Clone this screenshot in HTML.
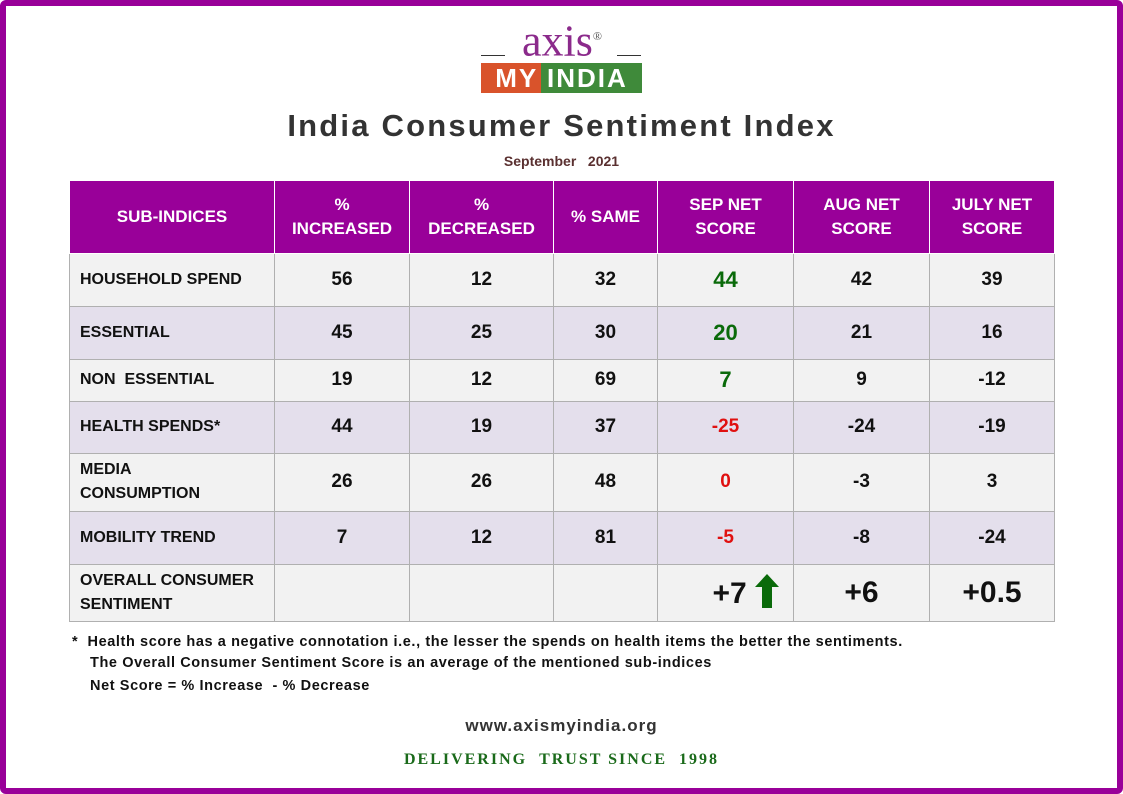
<!DOCTYPE html>
<html><head><meta charset="utf-8"><style>
body{margin:0;width:1123px;height:794px;background:#fff;font-family:"Liberation Sans",sans-serif;position:relative;overflow:hidden}
.frame{position:absolute;left:0;top:0;width:1111px;height:782px;border:6px solid #990099;border-radius:6px}
table{position:absolute;left:69px;top:181px;border-collapse:collapse;table-layout:fixed}
td{border:1px solid #b0b0b0;text-align:center;font-weight:bold;font-size:19px;color:#111;padding:0}
th{background:#990099;color:#fff;font-size:17px;font-weight:bold;border:1px solid #fff;border-top:none;line-height:24px}
td.l{text-align:left;padding-left:10px;font-size:16px}
tr.a td{background:#f2f2f2}tr.b td{background:#e4dfec}
.g{color:#0a6a0a;font-size:22px}.r{color:#e01010}
.big{font-size:30px}
.n{position:absolute;font-size:14.5px;font-weight:bold;color:#111;letter-spacing:0.6px;white-space:nowrap}
</style></head><body>
<div class="frame"></div>
<div style="position:absolute;left:482px;top:14px;width:160px;text-align:center;font-family:'Liberation Serif',serif;font-size:44px;color:#8b2a8b;line-height:44px">axis<sup style="font-size:12px;color:#555">®</sup></div>
<div style="position:absolute;left:481px;top:55px;width:24px;border-top:1px solid #333"></div>
<div style="position:absolute;left:617px;top:55px;width:24px;border-top:1px solid #333"></div>
<div style="position:absolute;left:481px;top:63px;width:60px;height:30px;background:#d9532b"></div>
<div style="position:absolute;left:541px;top:63px;width:101px;height:30px;background:#3f8a3a"></div>
<div style="position:absolute;left:481px;top:63px;width:161px;height:30px;color:#fff;font-weight:bold;font-size:26px;line-height:30px;letter-spacing:2px;text-align:center">MY INDIA</div>
<div style="position:absolute;left:0;width:1123px;top:108px;text-align:center;font-size:31px;font-weight:bold;color:#333;letter-spacing:2.2px">India Consumer Sentiment Index</div>
<div style="position:absolute;left:0;width:1123px;top:153px;text-align:center;font-size:14px;font-weight:bold;color:#5a3030">September &nbsp; 2021</div>
<table>
<colgroup><col style="width:205px"><col style="width:135px"><col style="width:144px"><col style="width:104px"><col style="width:136px"><col style="width:136px"><col style="width:125px"></colgroup>
<tr style="height:72px"><th>SUB-INDICES</th><th>%<br>INCREASED</th><th>%<br>DECREASED</th><th>% SAME</th><th>SEP NET<br>SCORE</th><th>AUG NET<br>SCORE</th><th>JULY NET<br>SCORE</th></tr>
<tr class="a" style="height:53px"><td class="l">HOUSEHOLD SPEND</td><td>56</td><td>12</td><td>32</td><td class="g">44</td><td>42</td><td>39</td></tr>
<tr class="b" style="height:53px"><td class="l">ESSENTIAL</td><td>45</td><td>25</td><td>30</td><td class="g">20</td><td>21</td><td>16</td></tr>
<tr class="a" style="height:42px"><td class="l">NON &nbsp;ESSENTIAL</td><td>19</td><td>12</td><td>69</td><td class="g">7</td><td>9</td><td>-12</td></tr>
<tr class="b" style="height:52px"><td class="l">HEALTH SPENDS*</td><td>44</td><td>19</td><td>37</td><td class="r">-25</td><td>-24</td><td>-19</td></tr>
<tr class="a" style="height:58px"><td class="l" style="line-height:24px">MEDIA<br>CONSUMPTION</td><td>26</td><td>26</td><td>48</td><td class="r">0</td><td>-3</td><td>3</td></tr>
<tr class="b" style="height:53px"><td class="l">MOBILITY TREND</td><td>7</td><td>12</td><td>81</td><td class="r">-5</td><td>-8</td><td>-24</td></tr>
<tr class="a" style="height:57px"><td class="l" style="line-height:24px">OVERALL CONSUMER<br>SENTIMENT</td><td></td><td></td><td></td><td class="big" style="text-align:right;padding-right:14px">+7 <svg width="24" height="34" viewBox="0 0 24 34" style="vertical-align:-5px"><polygon points="12,0 24,13 17,13 17,34 7,34 7,13 0,13" fill="#0a6a0a"/></svg></td><td class="big">+6</td><td class="big">+0.5</td></tr>
</table>
<div class="n" style="left:72px;top:634px">* &nbsp;Health score has a negative connotation i.e., the lesser the spends on health items the better the sentiments.</div>
<div class="n" style="left:90px;top:655px">The Overall Consumer Sentiment Score is an average of the mentioned sub-indices</div>
<div class="n" style="left:90px;top:678px">Net Score = % Increase &nbsp;- % Decrease</div>
<div style="position:absolute;left:0;width:1123px;top:716px;text-align:center;font-size:17px;font-weight:bold;color:#333;letter-spacing:1px">www.axismyindia.org</div>
<div style="position:absolute;left:0;width:1123px;top:751px;text-align:center;font-size:16px;font-weight:bold;color:#1a6a1a;letter-spacing:2px;font-family:'Liberation Serif',serif">DELIVERING &nbsp;TRUST SINCE &nbsp;1998</div>
</body></html>
